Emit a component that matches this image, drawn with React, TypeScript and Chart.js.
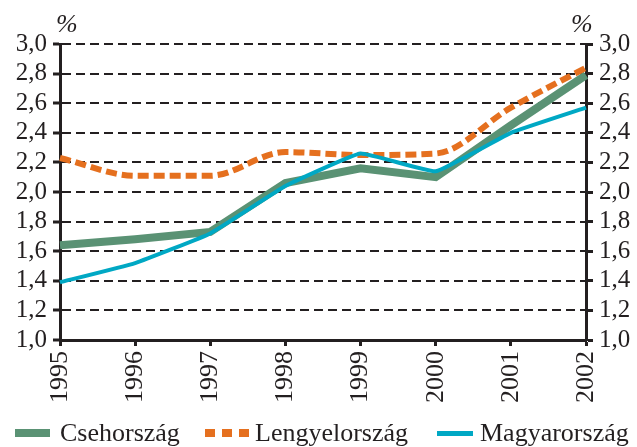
import React, { useEffect, useRef } from "react";
import { Chart, registerables } from "chart.js";

Chart.register(...registerables);

const years = ["1995", "1996", "1997", "1998", "1999", "2000", "2001", "2002"];
const csehorszag = [1.64, 1.68, 1.73, 2.06, 2.16, 2.1, 2.45, 2.79];
const lengyelorszag = [2.23, 2.11, 2.11, 2.27, 2.25, 2.26, 2.57, 2.84];
const magyarorszag = [1.39, 1.52, 1.72, 2.04, 2.26, 2.14, 2.4, 2.57];
const seriesNames = ["Csehország", "Lengyelország", "Magyarország"];
const yMin = 1.0;
const yMax = 3.0;
const yStep = 0.2;

const GREEN = "#5a9274";
const ORANGE = "#e5701f";
const CYAN = "#00a8c4";
const INK = "#231f20";
const FONT = "'Liberation Serif', 'Times New Roman', serif";

const fmt = (v: number | string) => Number(v).toFixed(1).replace(".", ",");

export default function App() {
  const ref = useRef<HTMLCanvasElement | null>(null);

  useEffect(() => {
    document.body.style.margin = "0";
    const ctx = ref.current;
    if (!ctx) return;
    const yTicks = {
      color: INK,
      font: { family: FONT, size: 25 },
      stepSize: yStep,
      padding: 6,
      autoSkip: false,
      callback: (v: any) => fmt(v),
    };
    const chart = new Chart(ctx, {
      type: "line",
      data: {
        labels: years,
        datasets: [
          {
            label: seriesNames[0],
            data: csehorszag,
            borderColor: GREEN,
            backgroundColor: GREEN,
            borderWidth: 8,
            pointRadius: 0,
            tension: 0,
            order: 3,
          },
          {
            label: seriesNames[1],
            data: lengyelorszag,
            borderColor: ORANGE,
            backgroundColor: ORANGE,
            borderWidth: 6,
            borderDash: [11, 5],
            pointRadius: 0,
            cubicInterpolationMode: "monotone",
            order: 2,
          },
          {
            label: seriesNames[2],
            data: magyarorszag,
            borderColor: CYAN,
            backgroundColor: CYAN,
            borderWidth: 4,
            pointRadius: 0,
            tension: 0.1,
            order: 1,
          },
        ],
      },
      options: {
        responsive: false,
        animation: false,
        devicePixelRatio: 1,
        layout: { padding: { top: 44, bottom: 40, left: 0, right: 0 } },
        plugins: { legend: { display: false }, tooltip: { enabled: false } },
        scales: {
          x: {
            type: "category",
            offset: false,
            grid: {
              drawOnChartArea: false,
              drawTicks: true,
              tickLength: 6,
              tickWidth: 3,
              tickColor: INK,
            },
            border: { display: true, color: INK, width: 3 },
            ticks: {
              color: INK,
              font: { family: FONT, size: 26 },
              minRotation: 90,
              maxRotation: 90,
              padding: 5,
              autoSkip: false,
            },
            afterFit: (s: any) => {
              s.height = 67;
            },
          },
          y: {
            position: "left",
            min: yMin,
            max: yMax,
            grid: {
              color: INK,
              lineWidth: 2,
              drawTicks: true,
              tickLength: 7,
              tickWidth: 3,
              tickColor: INK,
              tickBorderDash: [],
            },
            border: { display: true, color: INK, width: 3, dash: [9, 5] },
            ticks: yTicks,
            afterFit: (s: any) => {
              s.width = 60;
            },
          },
          y2: {
            position: "right",
            min: yMin,
            max: yMax,
            grid: {
              drawOnChartArea: false,
              drawTicks: true,
              tickLength: 7,
              tickWidth: 3,
              tickColor: INK,
            },
            border: { display: true, color: INK, width: 3 },
            ticks: yTicks,
            afterFit: (s: any) => {
              s.width = 51;
            },
          },
        },
      },
    } as any);
    return () => chart.destroy();
  }, []);

  const textStyle: React.CSSProperties = {
    position: "absolute",
    fontFamily: FONT,
    fontSize: 26,
    color: INK,
    lineHeight: "26px",
    whiteSpace: "nowrap",
  };
  const sw = (left: number, top: number, w: number, h: number, c: string): React.CSSProperties => ({
    position: "absolute",
    left,
    top,
    width: w,
    height: h,
    background: c,
  });

  return (
    <div style={{ position: "relative", width: 637, height: 447, overflow: "hidden", background: "#fff" }}>
      <canvas ref={ref} width={637} height={447} style={{ display: "block" }} />
      <span style={{ ...textStyle, left: 56, top: 11, fontStyle: "italic" }}>%</span>
      <span style={{ ...textStyle, left: 571, top: 11, fontStyle: "italic" }}>%</span>
      <div style={sw(15, 429, 35, 8, GREEN)} />
      <span style={{ ...textStyle, left: 60, top: 420 }}>{seriesNames[0]}</span>
      <div style={sw(205, 429, 10, 8, ORANGE)} />
      <div style={sw(222, 429, 10, 8, ORANGE)} />
      <div style={sw(239, 429, 10, 8, ORANGE)} />
      <span style={{ ...textStyle, left: 255, top: 420 }}>{seriesNames[1]}</span>
      <div style={sw(437, 431, 36, 5, CYAN)} />
      <span style={{ ...textStyle, left: 480, top: 420 }}>{seriesNames[2]}</span>
    </div>
  );
}
